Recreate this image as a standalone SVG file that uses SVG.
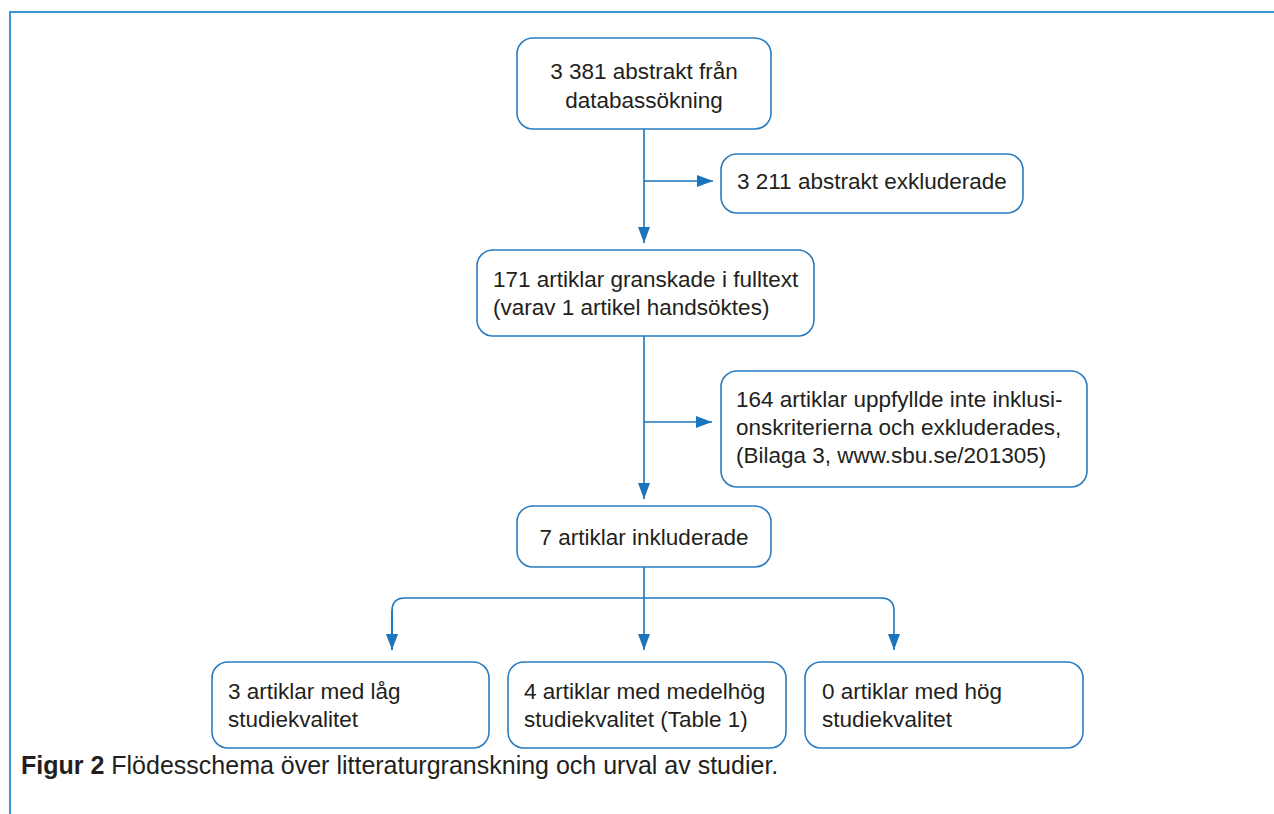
<svg xmlns="http://www.w3.org/2000/svg" width="1274" height="814" viewBox="0 0 1274 814">
<style>
.box{fill:#fff;stroke:#2a7cc0;stroke-width:1.6}
.t{font-family:"Liberation Sans",Arial,sans-serif;font-size:22.5px;fill:#231f20}
.cap{font-family:"Liberation Sans",Arial,sans-serif;font-size:25px;fill:#231f20}
.c{text-anchor:middle}
.con{fill:none;stroke:#1b75bc;stroke-width:1.6}
.frame{fill:none;stroke:#3b96d6;stroke-width:2}
</style>
<defs>
<marker id="ah" viewBox="0 0 16 12" refX="16" refY="6" markerWidth="16" markerHeight="12" markerUnits="userSpaceOnUse" orient="auto">
<path d="M0,0 L16,6 L0,12 z" fill="#1b75bc"/>
</marker>
</defs>
<rect width="1274" height="814" fill="#fff"/>
<path class="frame" d="M10,814 V12 H1274"/>
<g id="connectors">
<path class="con" d="M644,129 V243" marker-end="url(#ah)"/>
<path class="con" d="M644,181 H713" marker-end="url(#ah)"/>
<path class="con" d="M644,336 V499" marker-end="url(#ah)"/>
<path class="con" d="M644,422 H712" marker-end="url(#ah)"/>
<path class="con" d="M644,567 V650" marker-end="url(#ah)"/>
<path class="con" d="M392,650 V611 Q392,598 405,598 H881 Q894,598 894,611 V650" marker-end="url(#ah)"/>
<path class="con" d="M392,611 V650" marker-end="url(#ah)"/>
</g>
<g id="n1">
<rect class="box" x="517" y="38" width="254" height="91" rx="16"/>
<text class="t c" x="644" y="79">3 381 abstrakt från</text>
<text class="t c" x="644" y="108">databassökning</text>
</g>
<g id="n2">
<rect class="box" x="721" y="154" width="302" height="59" rx="16"/>
<text class="t" x="737" y="189">3 211 abstrakt exkluderade</text>
</g>
<g id="n3">
<rect class="box" x="477" y="250" width="337" height="86" rx="16"/>
<text class="t" x="493" y="287">171 artiklar granskade i fulltext</text>
<text class="t" x="493" y="315">(varav 1 artikel handsöktes)</text>
</g>
<g id="n4">
<rect class="box" x="721" y="371" width="366" height="116" rx="16"/>
<text class="t" x="736" y="407">164 artiklar uppfyllde inte inklusi-</text>
<text class="t" x="736" y="435">onskriterierna och exkluderades,</text>
<text class="t" x="736" y="463">(Bilaga 3, www.sbu.se/201305)</text>
</g>
<g id="n5">
<rect class="box" x="517" y="506" width="254" height="61" rx="16"/>
<text class="t c" x="644" y="545">7 artiklar inkluderade</text>
</g>
<g id="n6">
<rect class="box" x="212" y="662" width="277" height="86" rx="16"/>
<text class="t" x="228" y="699">3 artiklar med låg</text>
<text class="t" x="228" y="727">studiekvalitet</text>
</g>
<g id="n7">
<rect class="box" x="508" y="662" width="278" height="86" rx="16"/>
<text class="t" x="524" y="699">4 artiklar med medelhög</text>
<text class="t" x="524" y="727">studiekvalitet (Table 1)</text>
</g>
<g id="n8">
<rect class="box" x="805" y="662" width="278" height="86" rx="16"/>
<text class="t" x="822" y="699">0 artiklar med hög</text>
<text class="t" x="822" y="727">studiekvalitet</text>
</g>
<text class="cap" x="21" y="774"><tspan font-weight="bold">Figur 2</tspan> Flödesschema över litteraturgranskning och urval av studier.</text>
</svg>
